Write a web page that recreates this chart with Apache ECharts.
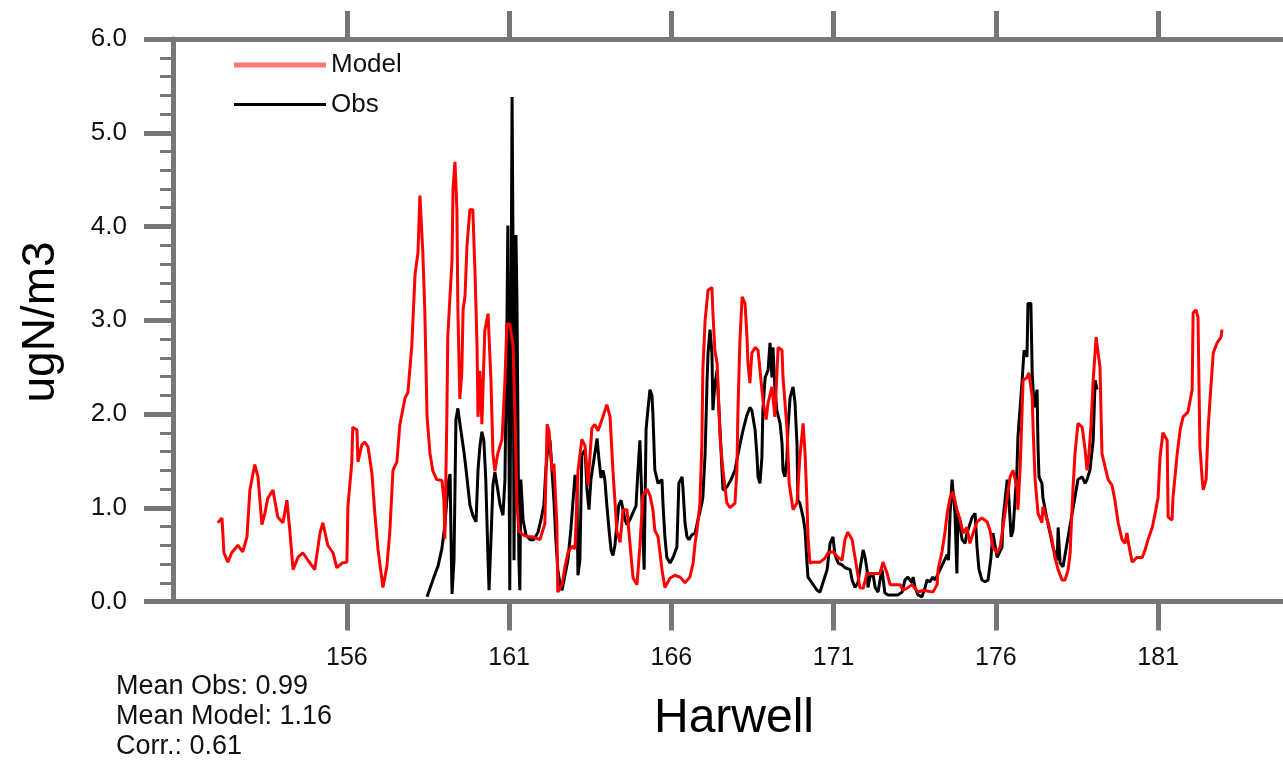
<!DOCTYPE html>
<html><head><meta charset="utf-8">
<script src="https://cdn.jsdelivr.net/npm/echarts@6/dist/echarts.min.js"></script>
<style>html,body{margin:0;padding:0;background:#fff}#c{width:1283px;height:763px}</style>
</head><body><div id="c"></div>
<script>
const modelDays = [152.02,152.15,152.21,152.33,152.45,152.64,152.79,152.92,153.01,153.16,153.26,153.38,153.47,153.56,153.72,153.87,154.03,154.15,154.24,154.34,154.49,154.64,154.80,155.01,155.17,155.26,155.41,155.57,155.69,155.85,156.00,156.03,156.15,156.18,156.31,156.34,156.46,156.55,156.65,156.77,156.86,156.96,157.08,157.11,157.23,157.32,157.42,157.54,157.63,157.79,157.88,158.00,158.10,158.19,158.25,158.31,158.34,158.40,158.47,158.56,158.65,158.77,158.93,158.99,159.02,159.08,159.11,159.24,159.27,159.33,159.39,159.42,159.48,159.54,159.58,159.64,159.70,159.79,159.88,159.95,160.01,160.04,160.10,160.16,160.25,160.35,160.44,160.50,160.56,160.65,160.78,160.87,160.93,161.02,161.12,161.18,161.24,161.30,161.43,161.58,161.73,161.95,162.10,162.17,162.23,162.32,162.38,162.47,162.50,162.63,162.72,162.81,162.94,163.03,163.12,163.24,163.34,163.43,163.55,163.64,163.74,163.89,164.01,164.11,164.20,164.32,164.42,164.51,164.63,164.72,164.82,164.94,165.03,165.12,165.25,165.34,165.43,165.49,165.59,165.71,165.80,165.96,166.11,166.27,166.42,166.57,166.67,166.73,166.79,166.88,166.94,166.97,167.04,167.13,167.25,167.28,167.34,167.41,167.50,167.59,167.71,167.81,167.96,168.02,168.05,168.11,168.18,168.27,168.33,168.36,168.42,168.48,168.58,168.67,168.73,168.82,168.92,168.98,169.10,169.19,169.29,169.41,169.44,169.56,169.63,169.75,169.87,169.96,170.06,170.12,170.18,170.21,170.27,170.36,170.58,170.73,170.83,170.98,171.14,171.26,171.35,171.44,171.57,171.66,171.72,171.81,171.91,172.03,172.28,172.43,172.52,172.65,172.74,173.05,173.14,173.26,173.42,173.51,173.60,173.76,174.06,174.19,174.22,174.34,174.43,174.50,174.59,174.68,174.80,174.90,174.99,175.11,175.20,175.30,175.42,175.57,175.73,175.82,175.91,176.04,176.13,176.22,176.35,176.44,176.53,176.65,176.68,176.75,176.84,176.96,177.02,177.12,177.15,177.21,177.30,177.42,177.45,177.52,177.61,177.73,177.82,177.92,178.04,178.13,178.23,178.29,178.35,178.38,178.44,178.53,178.66,178.75,178.81,178.87,178.93,179.00,179.09,179.15,179.21,179.27,179.37,179.46,179.58,179.67,179.77,179.89,179.98,180.04,180.11,180.20,180.35,180.51,180.60,180.69,180.82,180.91,181.00,181.06,181.15,181.28,181.31,181.43,181.46,181.59,181.68,181.77,181.92,182.05,182.08,182.17,182.23,182.29,182.36,182.39,182.48,182.54,182.60,182.70,182.82,182.94,182.97];
const modelValues = [0.84,0.89,0.52,0.42,0.52,0.60,0.53,0.69,1.19,1.46,1.33,0.82,0.94,1.10,1.19,0.90,0.84,1.08,0.76,0.34,0.47,0.52,0.44,0.34,0.73,0.84,0.60,0.52,0.36,0.41,0.42,1.01,1.48,1.86,1.83,1.49,1.67,1.70,1.65,1.37,0.94,0.55,0.23,0.15,0.37,0.73,1.40,1.49,1.88,2.17,2.23,2.73,3.49,3.72,4.33,4.33,3.72,3.11,1.97,1.58,1.39,1.30,1.29,1.08,0.67,1.97,2.84,3.64,4.40,4.69,4.18,3.11,2.16,2.43,3.11,3.26,3.79,4.18,4.18,3.49,2.73,1.97,2.46,1.89,2.89,3.07,2.35,1.58,1.39,1.58,1.73,2.35,2.96,2.96,2.73,1.97,1.05,0.75,0.71,0.69,0.69,0.66,0.83,1.89,1.82,1.39,1.47,0.83,0.10,0.18,0.37,0.52,0.59,0.56,1.39,1.73,1.66,1.24,1.85,1.89,1.82,1.97,2.10,1.97,1.39,0.75,0.63,0.98,0.98,0.63,0.25,0.18,0.59,1.13,1.20,1.13,0.98,0.76,0.69,0.34,0.15,0.25,0.28,0.26,0.20,0.26,0.41,0.62,0.76,1.05,1.69,2.47,3.00,3.32,3.35,3.08,2.68,2.54,1.75,1.40,1.05,1.00,1.05,1.40,2.01,2.76,3.25,3.18,2.82,2.54,2.33,2.65,2.71,2.68,2.47,2.15,1.94,2.12,2.29,1.97,2.71,2.68,2.39,1.86,1.26,0.98,1.05,1.54,1.90,1.58,1.05,0.69,0.41,0.42,0.42,0.46,0.52,0.53,0.47,0.44,0.66,0.74,0.66,0.47,0.34,0.15,0.14,0.30,0.30,0.30,0.42,0.30,0.18,0.18,0.12,0.14,0.18,0.14,0.10,0.12,0.10,0.18,0.34,0.53,0.73,0.94,1.11,1.17,0.98,0.87,0.73,0.79,0.62,0.73,0.85,0.89,0.85,0.76,0.58,0.52,0.58,0.79,1.11,1.33,1.40,1.22,0.98,1.43,2.36,2.39,2.44,2.18,1.83,1.30,0.94,0.84,1.01,0.94,0.84,0.66,0.47,0.34,0.23,0.23,0.34,0.52,1.01,1.22,1.58,1.90,1.86,1.62,1.40,1.58,1.86,2.36,2.82,2.82,2.50,1.58,1.43,1.30,1.24,1.08,0.84,0.66,0.62,0.73,0.58,0.42,0.47,0.47,0.55,0.66,0.79,0.94,1.11,1.54,1.80,1.72,0.90,0.87,1.11,1.58,1.83,1.97,2.02,2.26,3.08,3.11,3.03,1.65,1.30,1.19,1.30,1.83,2.15,2.65,2.76,2.82,2.90];
const obsDays = [158.47,158.56,158.68,158.81,158.93,159.02,159.08,159.14,159.18,159.21,159.24,159.30,159.36,159.42,159.51,159.61,159.70,159.79,159.88,159.98,160.04,160.10,160.16,160.22,160.28,160.35,160.38,160.44,160.50,160.56,160.65,160.72,160.81,160.87,160.93,160.96,160.99,161.02,161.06,161.09,161.12,161.15,161.18,161.21,161.24,161.27,161.30,161.33,161.36,161.43,161.52,161.64,161.76,161.89,161.98,162.07,162.13,162.20,162.26,162.32,162.38,162.44,162.50,162.57,162.63,162.72,162.81,162.90,162.97,163.03,163.09,163.12,163.18,163.24,163.34,163.40,163.46,163.52,163.61,163.71,163.77,163.83,163.89,163.95,164.01,164.08,164.14,164.20,164.26,164.32,164.38,164.45,164.51,164.57,164.63,164.72,164.82,164.91,164.97,165.03,165.09,165.16,165.22,165.28,165.34,165.40,165.43,165.49,165.59,165.71,165.74,165.80,165.86,165.96,166.05,166.17,166.23,166.33,166.36,166.42,166.48,166.54,166.63,166.73,166.82,166.94,166.97,167.04,167.10,167.13,167.19,167.25,167.28,167.34,167.41,167.44,167.50,167.56,167.59,167.71,167.84,167.96,168.08,168.21,168.33,168.42,168.48,168.58,168.64,168.67,168.73,168.79,168.82,168.89,168.98,169.04,169.10,169.13,169.19,169.25,169.35,169.41,169.44,169.50,169.56,169.59,169.66,169.75,169.81,169.87,169.90,169.96,170.06,170.12,170.18,170.21,170.33,170.49,170.58,170.67,170.80,170.89,170.98,171.04,171.14,171.26,171.35,171.51,171.57,171.66,171.75,171.81,171.91,171.97,172.03,172.06,172.12,172.21,172.28,172.37,172.43,172.49,172.52,172.58,172.68,172.83,172.98,173.11,173.20,173.29,173.42,173.45,173.51,173.60,173.72,173.82,173.88,173.97,174.06,174.13,174.50,174.54,174.59,174.65,174.68,174.74,174.80,174.83,174.96,175.05,175.11,175.27,175.36,175.42,175.48,175.57,175.67,175.76,175.85,175.91,176.04,176.07,176.19,176.22,176.35,176.38,176.47,176.53,176.59,176.65,176.68,176.81,176.87,176.96,176.99,177.08,177.12,177.18,177.27,177.30,177.33,177.42,177.45,177.58,177.67,177.76,177.89,177.92,177.98,178.07,178.53,178.66,178.75,178.81,178.90,179.00,179.06,179.12];
const obsValues = [0.05,0.14,0.26,0.38,0.57,0.82,1.08,1.30,1.36,0.66,0.08,0.44,1.94,2.06,1.83,1.59,1.32,1.03,0.92,0.85,1.40,1.66,1.81,1.72,1.30,0.44,0.12,0.66,1.24,1.38,1.19,1.03,0.92,1.30,2.90,4.01,1.94,0.12,3.22,5.38,3.75,0.44,2.15,3.91,3.22,1.94,0.44,0.12,1.30,0.87,0.71,0.66,0.66,0.74,0.87,1.03,1.40,1.67,1.72,1.40,1.08,0.66,0.34,0.18,0.12,0.28,0.44,0.76,1.08,1.35,1.19,0.28,0.44,1.56,1.62,1.19,0.98,1.30,1.51,1.74,1.51,1.32,1.40,1.30,1.03,0.76,0.55,0.49,0.60,0.82,1.03,1.08,0.98,0.87,0.82,0.87,0.95,1.02,1.40,1.72,1.74,0.34,1.83,2.06,2.26,2.20,2.01,1.40,1.26,1.30,1.05,0.69,0.47,0.41,0.47,0.58,1.26,1.33,1.19,0.84,0.69,0.66,0.71,0.73,0.87,1.05,1.11,1.58,2.36,2.65,2.90,2.65,2.04,2.31,2.47,2.22,1.83,1.40,1.19,1.22,1.30,1.40,1.62,1.83,1.99,2.07,2.04,1.83,1.54,1.33,1.26,1.54,2.04,2.39,2.47,2.76,2.39,2.71,2.29,2.04,1.90,1.69,1.40,1.33,1.51,1.83,2.18,2.29,2.12,1.69,1.08,1.05,0.90,0.76,0.41,0.26,0.20,0.12,0.10,0.20,0.34,0.62,0.69,0.50,0.41,0.39,0.36,0.34,0.23,0.15,0.20,0.34,0.55,0.47,0.34,0.15,0.26,0.30,0.15,0.10,0.23,0.34,0.26,0.09,0.07,0.07,0.07,0.10,0.23,0.26,0.20,0.26,0.15,0.07,0.05,0.15,0.23,0.21,0.26,0.23,0.50,0.44,0.94,1.30,1.30,0.94,0.30,0.94,0.66,0.62,0.73,0.90,0.94,0.58,0.34,0.23,0.21,0.23,0.47,0.73,0.47,0.47,0.58,0.87,1.30,1.22,0.69,0.76,1.08,1.40,1.75,2.36,2.68,2.61,3.18,3.18,2.44,2.07,2.26,1.65,1.33,1.26,1.11,0.87,0.73,0.58,0.44,0.79,0.41,0.37,1.30,1.33,1.26,1.30,1.40,1.72,2.36,2.26];
const xTickValues = [156, 161, 166, 171, 176, 181];
const xRange = [150.64, 184.85];
const yRange = [0, 6];
const yStep = 1;
const statLines = ['Mean Obs: 0.99', 'Mean Model: 1.16', 'Corr.: 0.61'];
const xTitle = 'Harwell';
const yTitle = 'ugN/m3';

const zip = (a, b) => a.slice(0, Math.min(a.length, b.length)).map((d, i) => [d, b[i]]);
const chart = echarts.init(document.getElementById('c'), null, { renderer: 'canvas' });
const gray = '#777777';
const font = '"Liberation Sans", Arial, Helvetica, sans-serif';

const statGraphics = statLines.map((t, i) => ({
  type: 'text', x: 116, y: 687 + i * 30,
  style: { text: t, font: '27px ' + font, fill: '#111', align: 'left', verticalAlign: 'middle', textAlign: 'left', textVerticalAlign: 'middle' }
}));

const option = {
  animation: false,
  backgroundColor: '#ffffff',
  grid: { left: 173, right: 0, top: 39, bottom: 161.5, containLabel: false },
  xAxis: [
    {
      type: 'value', min: xRange[0], max: xRange[1], position: 'bottom',
      axisLine: { show: true, onZero: false, lineStyle: { color: gray, width: 5 } },
      axisTick: { show: true, inside: false, length: 29, customValues: xTickValues, lineStyle: { color: gray, width: 5 } },
      axisLabel: { show: true, customValues: xTickValues, margin: 44, fontSize: 25, color: '#111', fontFamily: font },
      splitLine: { show: false }
    },
    {
      type: 'value', min: xRange[0], max: xRange[1], position: 'top',
      axisLine: { show: true, onZero: false, lineStyle: { color: gray, width: 5 } },
      axisTick: { show: true, inside: false, length: 28, customValues: xTickValues, lineStyle: { color: gray, width: 5 } },
      axisLabel: { show: false },
      splitLine: { show: false }
    }
  ],
  yAxis: {
    type: 'value', min: yRange[0], max: yRange[1], interval: yStep,
    axisLine: { show: true, onZero: false, lineStyle: { color: gray, width: 5 } },
    axisTick: { show: true, inside: false, length: 29, lineStyle: { color: gray, width: 5 } },
    minorTick: { show: true, splitNumber: 5, length: 13, lineStyle: { color: gray, width: 3 } },
    axisLabel: { formatter: v => v.toFixed(1), margin: 46, fontSize: 26, color: '#111', fontFamily: font },
    splitLine: { show: false }, minorSplitLine: { show: false }
  },
  legend: {
    orient: 'vertical', left: 234, top: 52, padding: 0, itemWidth: 92, itemHeight: 24, itemGap: 13.5,
    textStyle: { fontSize: 26, color: '#111', fontFamily: font },
    data: [
      { name: 'Model', icon: 'path://M0,0M0,24M0,9.5H92V14.5H0Z', itemStyle: { color: '#ff7777', borderWidth: 0 } },
      { name: 'Obs', icon: 'path://M0,0M0,24M0,10.5H92V13.5H0Z', itemStyle: { color: '#000000', borderWidth: 0 } }
    ]
  },
  series: [
    {
      name: 'Obs', type: 'line', xAxisIndex: 0, data: zip(obsDays, obsValues),
      symbol: 'none', showSymbol: false, z: 2,
      lineStyle: { color: '#000000', width: 3 }, itemStyle: { color: '#000000' }
    },
    {
      name: 'Model', type: 'line', xAxisIndex: 0, data: zip(modelDays, modelValues),
      symbol: 'none', showSymbol: false, z: 3,
      lineStyle: { color: '#ff0000', width: 3 }, itemStyle: { color: '#ff0000' }
    }
  ],
  graphic: [
    {
      type: 'text', x: 734, y: 719,
      style: { text: xTitle, font: '48px ' + font, fill: '#000', align: 'center', verticalAlign: 'middle', textAlign: 'center', textVerticalAlign: 'middle' }
    },
    {
      type: 'text', x: 41, y: 322, rotation: Math.PI / 2,
      style: { text: yTitle, font: '46px ' + font, fill: '#000', align: 'center', verticalAlign: 'middle', textAlign: 'center', textVerticalAlign: 'middle' }
    }
  ].concat(statGraphics)
};
chart.setOption(option);
</script>
</body></html>
